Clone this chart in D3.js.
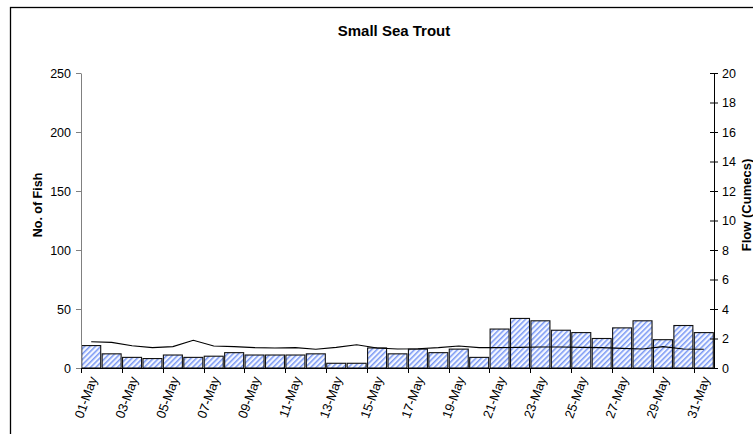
<!DOCTYPE html>
<html>
<head>
<meta charset="utf-8">
<script src="https://cdn.jsdelivr.net/npm/d3@7"></script>
<style>
  html, body { margin: 0; padding: 0; background: #fff; }
  svg { display: block; font-family: Arial, "Liberation Sans", sans-serif; }
</style>
</head>
<body>
<svg id="chart" width="753" height="434"></svg>
<script>
// Daily counts of small sea trout and river flow for May
const days = d3.range(1, 32).map(d => String(d).padStart(2, "0") + "-May");
const fishCounts = [19, 12, 9, 8, 11, 9, 10, 13, 11, 11, 11, 12, 4, 4, 17, 12,
                    16, 13, 16, 9, 33, 42, 40, 32, 30, 25, 34, 40, 24, 36, 30];
const flowCumecs = [1.78, 1.74, 1.51, 1.38, 1.45, 1.88, 1.49, 1.45, 1.38, 1.36, 1.38,
                    1.27, 1.40, 1.58, 1.36, 1.29, 1.31, 1.38, 1.49, 1.38, 1.38, 1.40,
                    1.42, 1.42, 1.40, 1.38, 1.33, 1.29, 1.45, 1.29, 1.27];
const fishTicks = [0, 50, 100, 150, 200, 250];
const flowTicks = [0, 2, 4, 6, 8, 10, 12, 14, 16, 18, 20];

const svg = d3.select("#chart");
const plot = { left: 81, right: 714, top: 73, bottom: 368 };

// Outer chart frame
svg.append("rect")
  .attr("x", 10.5).attr("y", 7.5)
  .attr("width", 800).attr("height", 500)
  .attr("fill", "none").attr("stroke", "#000").attr("stroke-width", 1.3);

// Diagonal hatch fill for the bars
const defs = svg.append("defs");
const pat = defs.append("pattern")
  .attr("id", "hatch")
  .attr("patternUnits", "userSpaceOnUse")
  .attr("width", 3.8).attr("height", 3.8)
  .attr("patternTransform", "rotate(45)");
pat.append("rect").attr("width", 3.8).attr("height", 3.8).attr("fill", "#f4f7ff");
pat.append("rect").attr("width", 1.5).attr("height", 3.8).attr("fill", "#7a98f4");

const x = d3.scaleBand().domain(days).range([plot.left, plot.right]).padding(0);
const yL = d3.scaleLinear().domain([0, 250]).range([plot.bottom, plot.top]);
const yR = d3.scaleLinear().domain([0, 20]).range([plot.bottom, plot.top]);
const bw = x.bandwidth();

// Title
svg.append("text")
  .attr("x", 394).attr("y", 36)
  .attr("text-anchor", "middle")
  .attr("font-weight", "bold").attr("font-size", 15)
  .text("Small Sea Trout");

// Bars
svg.append("g").selectAll("rect")
  .data(days)
  .join("rect")
  .attr("x", (d) => x(d) + bw * 0.035)
  .attr("y", (d, i) => yL(fishCounts[i]))
  .attr("width", bw * 0.93)
  .attr("height", (d, i) => yL(0) - yL(fishCounts[i]))
  .attr("fill", "url(#hatch)")
  .attr("stroke", "#111").attr("stroke-width", 1.1);

// Flow line
const line = d3.line()
  .x((d, i) => x(days[i]) + bw / 2)
  .y(d => yR(d));
svg.append("path")
  .datum(flowCumecs)
  .attr("d", line)
  .attr("fill", "none").attr("stroke", "#000").attr("stroke-width", 1.1);

// Left axis (No. of Fish)
const gL = svg.append("g")
  .attr("transform", `translate(${plot.left},0)`)
  .call(d3.axisLeft(yL).tickValues(fishTicks).tickSize(5).tickSizeOuter(0).tickPadding(5));
gL.selectAll("path, line").attr("stroke", "#808080");
gL.selectAll("text").attr("font-size", 12.5).attr("fill", "#000")
  .attr("font-family", "Arial, 'Liberation Sans', sans-serif");

// Right axis (Flow)
const gR = svg.append("g")
  .attr("transform", `translate(${plot.right},0)`)
  .call(d3.axisRight(yR).tickValues(flowTicks).tickSize(4).tickSizeOuter(0).tickPadding(4));
gR.selectAll("line").attr("x1", -4).attr("stroke", "#000");
gR.select(".domain").attr("stroke", "#000");
gR.selectAll("text").attr("font-size", 12.5).attr("fill", "#000")
  .attr("font-family", "Arial, 'Liberation Sans', sans-serif");

// Category axis
svg.append("line")
  .attr("x1", plot.left).attr("x2", plot.right)
  .attr("y1", plot.bottom + 0.5).attr("y2", plot.bottom + 0.5)
  .attr("stroke", "#000").attr("stroke-width", 1.2);

const labelled = days.filter((d, i) => i % 2 === 0);
svg.append("g").selectAll("line")
  .data(labelled)
  .join("line")
  .attr("x1", d => Math.round(x(d)) + 0.5).attr("x2", d => Math.round(x(d)) + 0.5)
  .attr("y1", plot.bottom).attr("y2", plot.bottom + 5)
  .attr("stroke", "#000");

svg.append("g").selectAll("text")
  .data(labelled)
  .join("text")
  .attr("transform", d => `translate(${x(d) + bw / 2 + 2},377) rotate(-70)`)
  .attr("text-anchor", "end")
  .attr("dy", "0.35em")
  .attr("font-size", 13)
  .text(d => d);

// Axis titles
svg.append("text")
  .attr("transform", "translate(42,205) rotate(-90)")
  .attr("text-anchor", "middle")
  .attr("font-weight", "bold").attr("font-size", 12.5)
  .text("No. of Fish");

svg.append("text")
  .attr("transform", "translate(751,205) rotate(-90)")
  .attr("text-anchor", "middle")
  .attr("font-weight", "bold").attr("font-size", 13)
  .text("Flow (Cumecs)");
</script>
</body>
</html>
